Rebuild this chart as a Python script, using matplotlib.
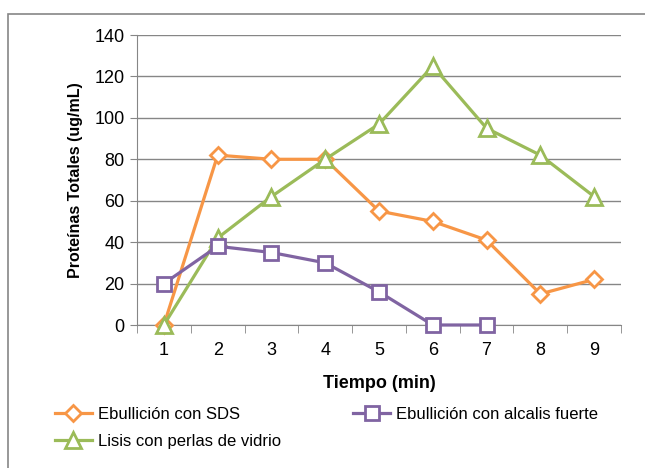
import numpy as np
import matplotlib
matplotlib.use('Agg')
import matplotlib.pyplot as plt
from matplotlib.patches import Rectangle

plt.rcParams['font.family'] = ['Liberation Sans', 'DejaVu Sans']

tiempo = [1, 2, 3, 4, 5, 6, 7, 8, 9]
sds = [0, 82, 80, 80, 55, 50, 41, 15, 22]
alcalis = [20, 38, 35, 30, 16, 0, 0]
perlas = [0, 42, 62, 80, 97, 125, 95, 82, 62]

naranja = '#F79646'
morado = '#8064A2'
verde = '#9BBB59'
gris = '#868686'

fig = plt.figure(figsize=(6.45, 4.68), dpi=100)
# marco del grafico (se sale por la derecha y por abajo)
fig.patches.append(Rectangle((8/645, -0.1), 1.2, 1.1 - 14/468, transform=fig.transFigure,
                             fill=False, edgecolor=gris, linewidth=1.2))

ax = fig.add_axes([137/645, 1 - 325/468, (621-137)/645, (325-35)/468])

l1, = ax.plot(tiempo, sds, color=naranja, lw=2.3, marker='D', ms=8, mfc='white',
              mec=naranja, mew=2, label='Ebullición con SDS', zorder=3, clip_on=False)
l3, = ax.plot(tiempo, perlas, color=verde, lw=2.3, marker='^', ms=11, mfc='white',
              mec=verde, mew=2, label='Lisis con perlas de vidrio', zorder=3, clip_on=False)
l2, = ax.plot(tiempo[:len(alcalis)], alcalis, color=morado, lw=2.3, marker='s', ms=10,
              mfc='white', mec=morado, mew=2, label='Ebullición con alcalis fuerte',
              zorder=4, clip_on=False)

ax.set_xlim(0.5, 9.5)
ax.set_ylim(0, 140)
ax.set_yticks(np.arange(0, 141, 20))
ax.set_xticks(tiempo)
ax.set_xticks(np.arange(0.5, 9.6, 1), minor=True)
ax.grid(axis='y', color=gris, lw=1)
ax.set_axisbelow(True)
for s in ['top', 'right']:
    ax.spines[s].set_visible(False)
ax.spines['left'].set_color(gris)
ax.spines['bottom'].set_color(gris)
ax.tick_params(axis='x', which='major', length=0, pad=12, labelsize=13)
ax.tick_params(axis='x', which='minor', length=6, color=gris, direction='out')
ax.tick_params(axis='y', length=5, color=gris, labelsize=13, pad=4)

ax.set_xlabel('Tiempo (min)', fontsize=13, fontweight='bold', labelpad=12)
ax.set_ylabel('Proteínas Totales (ug/mL)', fontsize=11.5, fontweight='bold', labelpad=8)

fig.legend(handles=[l1, l3, l2], loc='upper left', bbox_to_anchor=(0.075, 0.145), ncol=2,
           frameon=False, fontsize=12, handlelength=2.2, handletextpad=0.4,
           columnspacing=4.3, labelspacing=0.75, borderaxespad=0)

fig.savefig('out.png', dpi=100)
